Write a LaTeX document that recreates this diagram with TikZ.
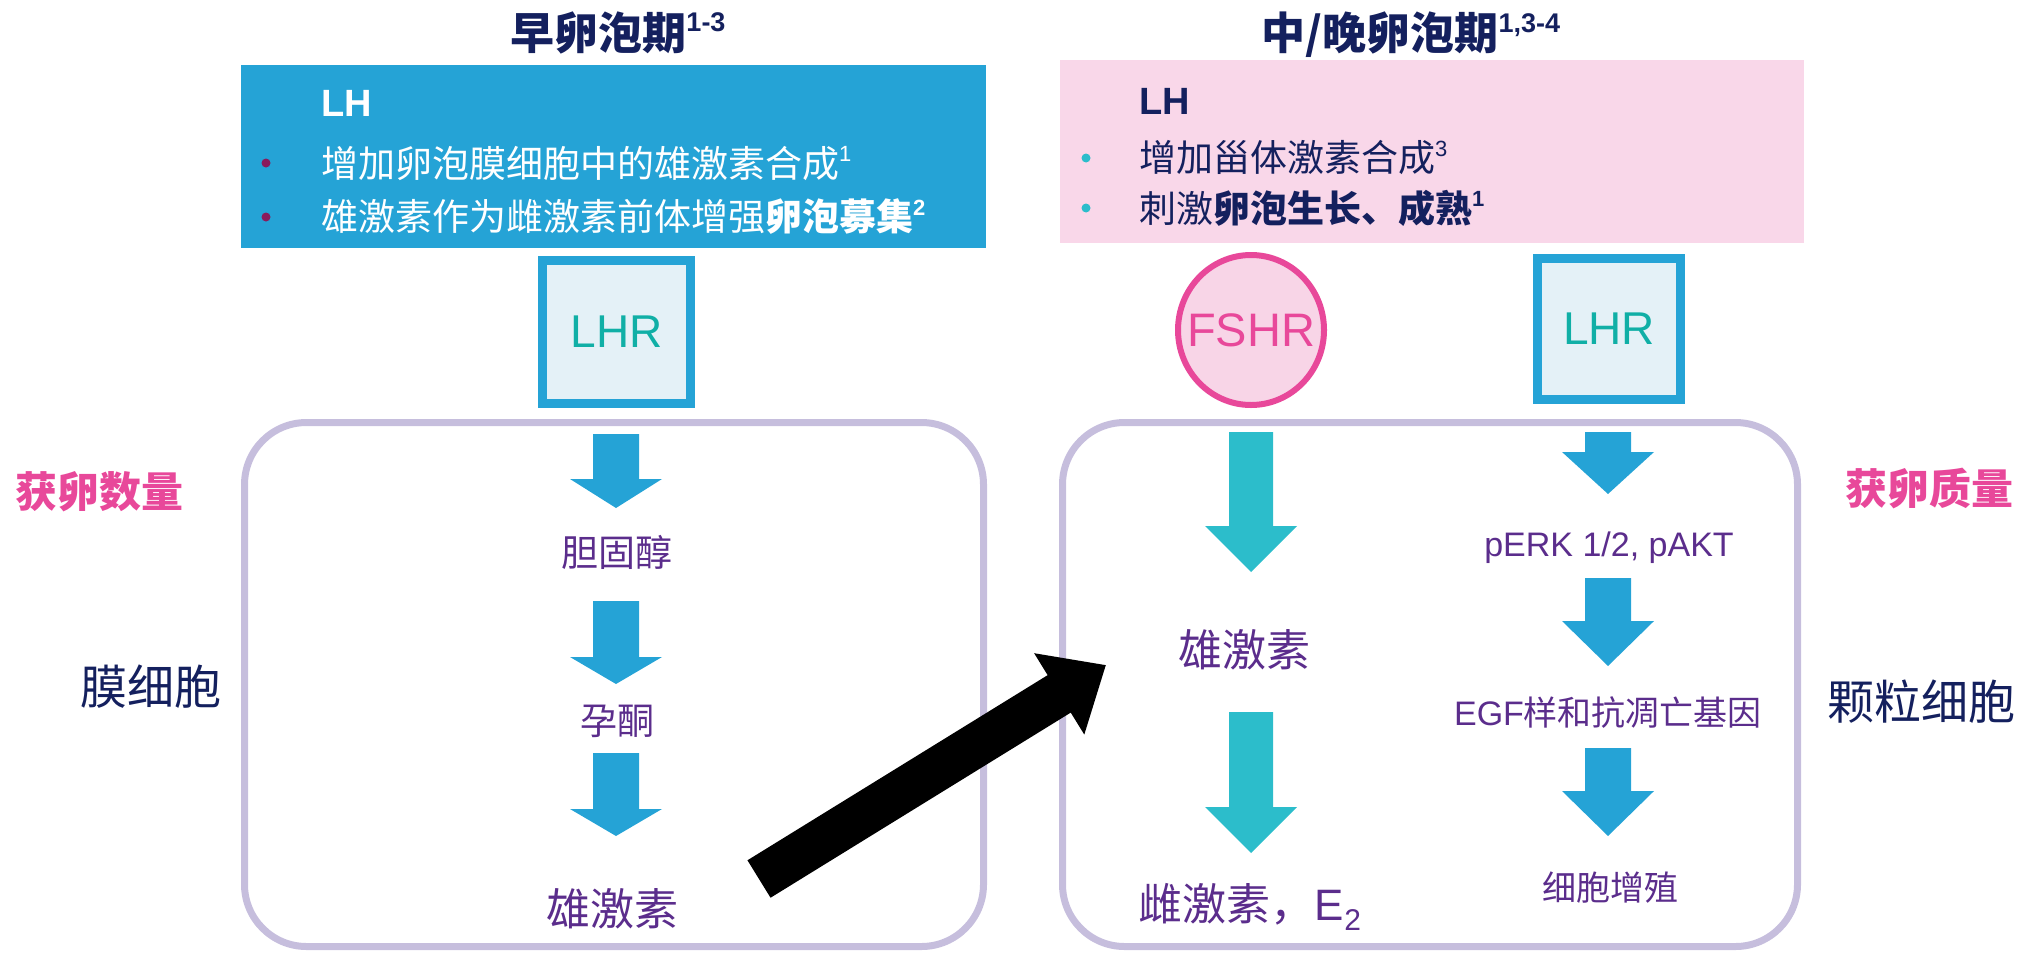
\documentclass[tikz,border=0pt]{standalone}
\usepackage{fontspec}
\setmainfont{Noto Sans CJK SC}
\newfontfamily\lat{Liberation Sans}
\usetikzlibrary{arrows.meta,shapes.geometric}
\definecolor{navy}{HTML}{14205E}
\definecolor{boxblue}{HTML}{25A3D6}
\definecolor{boxpink}{HTML}{F9D7E9}
\definecolor{purp}{HTML}{5B2D8C}
\definecolor{tealtxt}{HTML}{10AFA6}
\definecolor{lhrfill}{HTML}{E4F1F7}
\definecolor{hotpink}{HTML}{E8489A}
\definecolor{fshrfill}{HTML}{F8D5E7}
\definecolor{lav}{HTML}{C6BEDD}
\definecolor{arrteal}{HTML}{2CBDCB}
\definecolor{maroon}{HTML}{8A1B5C}
\newcommand\supr[1]{\raisebox{0.42em}{\lat\fontsize{22}{22}\selectfont #1}}
\newcommand\supt[1]{\raisebox{0.40em}{\lat\bfseries\fontsize{27}{27}\selectfont #1}}
\newcommand\blk[6]{%
  \fill[#1] ({#2-#6},#3) -- ({#2+#6},#3) -- ({#2+#6},#4) -- ({#2+46},#4) -- (#2,#5)
    -- ({#2-46},#4) -- ({#2-#6},#4) -- cycle;}
\begin{document}
\begin{tikzpicture}[x=1pt,y=-1pt,
  every node/.style={inner sep=0pt,outer sep=0pt},
  ttl/.style={font=\fontsize{44}{50}\selectfont\bfseries, text=navy},
  btxt/.style={anchor=west, font=\fontsize{37}{44}\selectfont},
  bul/.style={circle, minimum size=9pt},
  lhrbox/.style={draw=boxblue, line width=9pt, fill=lhrfill, text=tealtxt,
    font=\lat\fontsize{46}{50}\selectfont},
  cell/.style={draw=lav, line width=7pt, rounded corners=62pt, minimum height=524pt},
  mol/.style={text=purp},
  side/.style={font=\fontsize{42}{48}\selectfont\bfseries, text=hotpink},
  celltype/.style={font=\fontsize{47}{52}\selectfont, text=navy}]
\useasboundingbox (0,0) rectangle (2023,956);

% titles
\node[ttl] (t1) at (618,33) {早卵泡期\supt{1-3}};
\node[ttl] (t2) at (1411,35) {中/晚卵泡期\supt{1,3-4}};

% top boxes
\node[fill=boxblue, minimum width=745pt, minimum height=183pt] (early) at (613.5,156.5) {};
\node[fill=boxpink, minimum width=744pt, minimum height=183pt] (late) at (1432,151.5) {};

\node[btxt, text=white, font=\lat\bfseries\fontsize{38}{44}\selectfont] (lh1) at (321,103) {LH};
\node[bul, fill=maroon] (b11) at (266,163) {};
\node[btxt, text=white] (l11) at (321,163) {增加卵泡膜细胞中的雄激素合成\supr{1}};
\node[bul, fill=maroon] (b12) at (266,217) {};
\node[btxt, text=white] (l12) at (321,217) {雄激素作为雌激素前体增强\textbf{卵泡募集}\supr{\bfseries 2}};

\node[btxt, text=navy, font=\lat\bfseries\fontsize{38}{44}\selectfont] (lh2) at (1139,101) {LH};
\node[bul, fill=arrteal] (b21) at (1086,158) {};
\node[btxt, text=navy] (l21) at (1139,158) {增加甾体激素合成\supr{3}};
\node[bul, fill=arrteal] (b22) at (1086,208) {};
\node[btxt, text=navy] (l22) at (1139,208) {刺激\textbf{卵泡生长、成熟}\supr{\bfseries 1}};

% receptors
\node[lhrbox, minimum width=148pt, minimum height=143pt] (lhrL) at (616.5,332) {LHR};
\node[lhrbox, minimum width=143pt, minimum height=141pt] (lhrR) at (1609,329) {LHR};
\node[ellipse, draw=hotpink, line width=6pt, fill=fshrfill, minimum width=146pt,
  minimum height=150pt] (fshrc) at (1251,330) {};
\node[text=hotpink, font=\lat\fontsize{47}{52}\selectfont] (fshr) at (fshrc) {FSHR};

% cells
\node[cell, minimum width=739pt] (theca) at (614,684.5) {};
\node[cell, minimum width=735pt] (gran) at (1430,684.5) {};

% left column
\blk{boxblue}{616}{434}{479}{508}{23}
\node[mol, font=\fontsize{37}{40}\selectfont] (chol) at (617,552) {胆固醇};
\blk{boxblue}{616}{601}{657}{684}{23}
\node[mol, font=\fontsize{37}{40}\selectfont] (prog) at (617,721) {孕酮};
\blk{boxblue}{616}{753}{809}{836}{23}
\node[mol, font=\fontsize{44}{48}\selectfont] (andL) at (612,909) {雄激素};

% middle column
\blk{arrteal}{1251}{432}{526}{572}{22}
\node[mol, font=\fontsize{44}{48}\selectfont] (andR) at (1244,650) {雄激素};
\blk{arrteal}{1251}{712}{807}{853}{22}
\node[mol, font=\fontsize{44}{48}\selectfont] (estr) at (1250,907)
  {雌激素，{\lat E\raisebox{-0.22em}{\fontsize{30}{30}\selectfont 2}}};

% right column
\blk{boxblue}{1608}{432}{452}{494}{23}
\node[mol, font=\lat\fontsize{34}{40}\selectfont] (perk) at (1609,548) {pERK 1/2, pAKT};
\blk{boxblue}{1608}{578}{621}{666}{23}
\node[mol, font=\fontsize{34}{40}\selectfont] (egf) at (1608,713) {{\lat EGF}样和抗凋亡基因};
\blk{boxblue}{1608}{748}{791}{836}{23}
\node[mol, font=\fontsize{34}{40}\selectfont] (prolif) at (1610,888) {细胞增殖};

% side labels
\node[side] (num) at (99,492) {获卵数量};
\node[celltype] (theclab) at (151,687) {膜细胞};
\node[side] (qual) at (1929,489) {获卵质量};
\node[celltype] (granlab) at (1921,702) {颗粒细胞};

% transfer arrow
\coordinate (bt) at (759,879);
\coordinate (bh) at (1106,665);
\draw[line width=44pt, -{Triangle[length=55pt,width=92pt]}] (bt) -- (bh);
\end{tikzpicture}
\end{document}
